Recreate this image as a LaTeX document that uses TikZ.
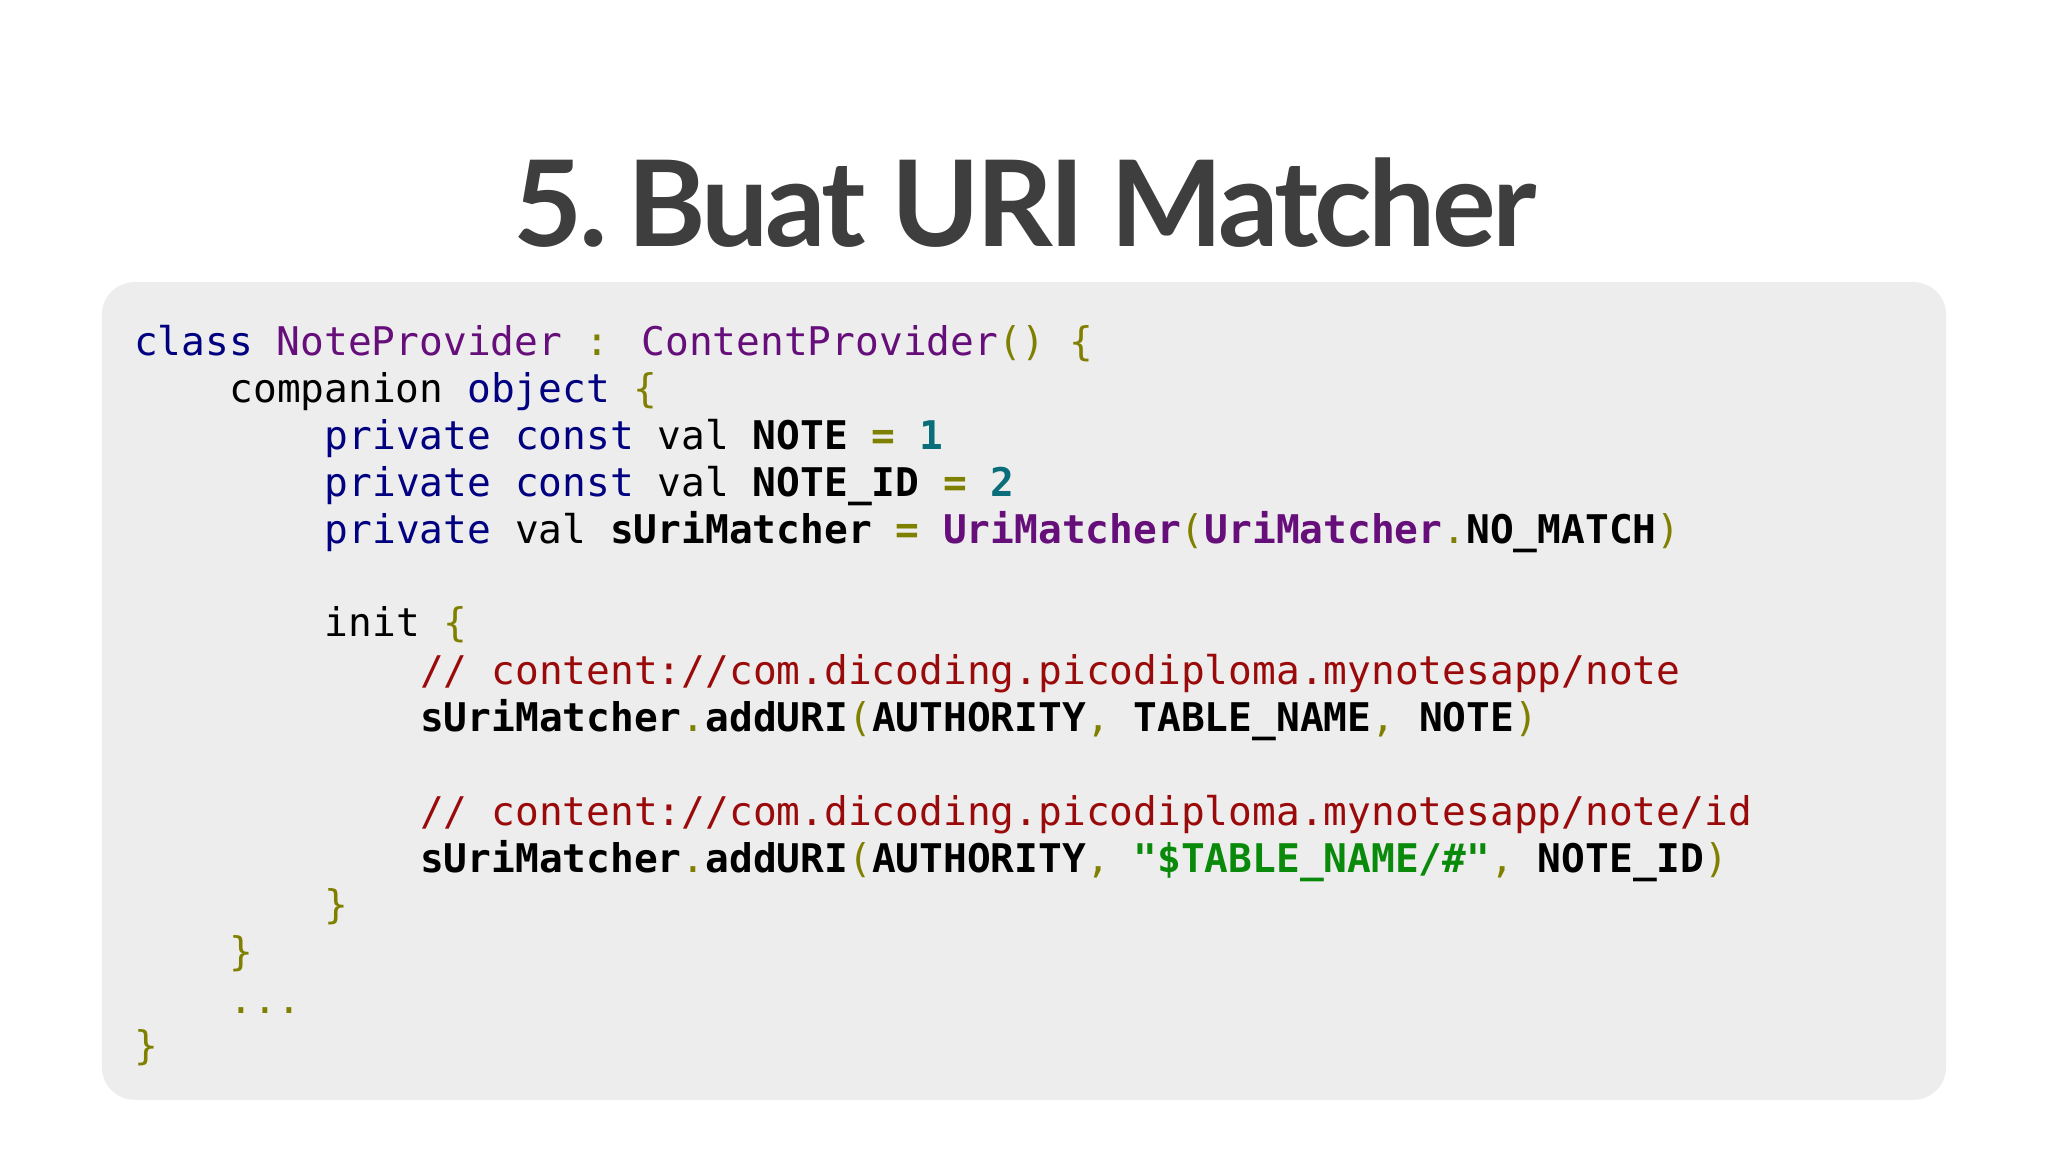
\documentclass[tikz,border=0pt]{standalone}
\usepackage{fontspec}
\setmainfont{Lato}
\newfontfamily\codefont{DejaVu Sans Mono}
\newfontfamily\titlefont[LetterSpace=-3]{Lato}
\definecolor{kwc}{HTML}{000080}
\definecolor{tyc}{HTML}{660E7A}
\definecolor{puc}{HTML}{808000}
\definecolor{nuc}{HTML}{0A6E7A}
\definecolor{cmc}{HTML}{9A0A0A}
\definecolor{stc}{HTML}{0A8A0A}
\definecolor{boxc}{HTML}{EDEDED}
\definecolor{titc}{HTML}{3E3E3E}
\newcommand{\K}[1]{\textcolor{kwc}{#1}}
\newcommand{\T}[1]{\textcolor{tyc}{#1}}
\newcommand{\TB}[1]{\textcolor{tyc}{\bfseries #1}}
\newcommand{\PU}[1]{\textcolor{puc}{#1}}
\newcommand{\NU}[1]{\textcolor{nuc}{\bfseries #1}}
\newcommand{\CM}[1]{\textcolor{cmc}{#1}}
\newcommand{\ST}[1]{\textcolor{stc}{\bfseries #1}}
\newcommand{\B}[1]{{\bfseries #1}}
\begin{document}
\begin{tikzpicture}[x=0.01cm,y=-0.01cm,
  code/.style={anchor=base west,inner sep=0pt,font=\codefont\fontsize{8.6}{10}\selectfont}]
\useasboundingbox (0,0) rectangle (1568,882);
\fill[white] (0,0) rectangle (1568,882);
\node[anchor=base,inner sep=0pt,text=titc,font=\titlefont\fontsize{26}{30}\selectfont\bfseries] (title) at (785,189) {5.\hspace{-0.12em} Buat URI Matcher};
\fill[boxc,rounded corners=0.25cm] (78,216) rectangle (1490,842);
\node[code] (l1) at (102,272) {\K{class} \T{NoteProvider} \PU{:} \T{ContentProvider}\PU{() \{}};
\node[code] (l2) at (175,308) {companion \K{object} \PU{\{}};
\node[code] (l3) at (248,344) {\K{private const} val \B{NOTE} \PU{\B{=}} \NU{1}};
\node[code] (l4) at (248,380) {\K{private const} val \B{NOTE\_ID} \PU{\B{=}} \NU{2}};
\node[code] (l5) at (248,416) {\K{private} val \B{sUriMatcher} \PU{\B{=}} \TB{UriMatcher}\PU{(}\TB{UriMatcher}\PU{.}\B{NO\_MATCH}\PU{)}};
\node[code] (l6) at (248,487) {init \PU{\{}};
\node[code] (l7) at (321,524) {\CM{// content://com.dicoding.picodiploma.mynotesapp/note}};
\node[code] (l8) at (321,560) {\B{sUriMatcher}\PU{.}\B{addURI}\PU{(}\B{AUTHORITY}\PU{,} \B{TABLE\_NAME}\PU{,} \B{NOTE}\PU{)}};
\node[code] (l9) at (321,632) {\CM{// content://com.dicoding.picodiploma.mynotesapp/note/id}};
\node[code] (l10) at (321,668) {\B{sUriMatcher}\PU{.}\B{addURI}\PU{(}\B{AUTHORITY}\PU{,} \ST{"\$TABLE\_NAME/\#"}\PU{,} \B{NOTE\_ID}\PU{)}};
\node[code] (l11) at (248,703) {\PU{\}}};
\node[code] (l12) at (175,739) {\PU{\}}};
\node[code] (l13) at (175,776) {\PU{...}};
\node[code] (l14) at (102,811) {\PU{\}}};
\end{tikzpicture}
\end{document}
